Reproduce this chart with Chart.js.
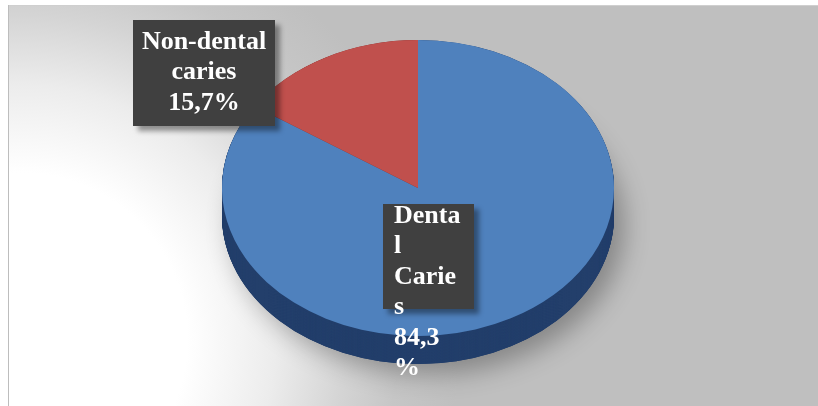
<!DOCTYPE html>
<html>
<head>
<meta charset="utf-8">
<script src="https://cdn.jsdelivr.net/npm/chart.js@4.4.0/dist/chart.umd.min.js"></script>
<style>
  html, body { margin: 0; padding: 0; background: #fff; }
  canvas { display: block; }
</style>
</head>
<body>
<canvas id="myChart" width="818" height="406"></canvas>
<script>
const categories = ['Dental Caries', 'Non-dental caries'];
const values = [84.3, 15.7];
const faceColors = ['#4f81bd', '#c0504d'];
const sideColors = ['#233f6b', '#7a2c2a'];

// tilt of the pie (vertical squash) and thickness of the side wall
const TILT = 0.755;
const DEPTH = 28;
const CENTER_Y = 188;

// label boxes: rectangle, text alignment and wrap width
const labelBoxes = [
  { x: 383, y: 204, w: 91, h: 105, align: 'left', textX: 394, firstLine: 223, wrap: 69 },
  { x: 133, y: 20, w: 142, h: 106, align: 'center', textX: 204, firstLine: 49, wrap: 132 }
];
const LINE_H = 30.4;
const LABEL_FONT = 'bold 26px "Liberation Serif", "Times New Roman", serif';

function fmt(v) {
  return v.toFixed(1).replace('.', ',') + '%';
}

// greedy word wrap, breaking a word by characters when it is too long on its own
function wrapText(ctx, text, maxW) {
  const lines = [];
  let cur = '';
  text.split(' ').forEach(word => {
    const test = cur ? cur + ' ' + word : word;
    if (ctx.measureText(test).width <= maxW) { cur = test; return; }
    if (cur) lines.push(cur);
    cur = '';
    for (const ch of word) {
      if (ctx.measureText(cur + ch).width > maxW && cur) { lines.push(cur); cur = ch; }
      else cur += ch;
    }
  });
  if (cur) lines.push(cur);
  return lines;
}

const pie3d = {
  id: 'pie3d',
  beforeDraw(chart) {
    const ctx = chart.ctx;
    const W = chart.width, H = chart.height;
    ctx.save();
    ctx.fillStyle = '#ffffff';
    ctx.fillRect(0, 0, W, H);
    const g = ctx.createRadialGradient(20, 340, 0, 20, 340, 440);
    g.addColorStop(0, '#ffffff');
    g.addColorStop(0.38, '#ffffff');
    g.addColorStop(0.58, '#ececec');
    g.addColorStop(0.74, '#d4d4d4');
    g.addColorStop(0.86, '#c6c6c6');
    g.addColorStop(1, '#bfbfbf');
    ctx.fillStyle = g;
    ctx.fillRect(8, 5, W - 8, H - 5);
    ctx.strokeStyle = '#cfcfcf';
    ctx.lineWidth = 1;
    ctx.beginPath();
    ctx.moveTo(8, 5.5); ctx.lineTo(W, 5.5);
    ctx.stroke();
    ctx.strokeStyle = '#bdbdbd';
    ctx.beginPath();
    ctx.moveTo(8.5, 5); ctx.lineTo(8.5, H);
    ctx.stroke();
    ctx.restore();
  },
  beforeDatasetsDraw(chart) {
    const ctx = chart.ctx;
    const arcs = chart.getDatasetMeta(0).data;
    const { x, y, outerRadius } = arcs[0];
    const dy = DEPTH / TILT;
    ctx.save();
    ctx.translate(0, CENTER_Y);
    ctx.scale(1, TILT);
    ctx.translate(0, -y);

    // soft shadow under the base
    ctx.save();
    ctx.shadowColor = 'rgba(0,0,0,0.3)';
    ctx.shadowBlur = 26;
    ctx.shadowOffsetX = 10;
    ctx.shadowOffsetY = 10;
    ctx.beginPath();
    ctx.arc(x, y + dy, outerRadius, 0, Math.PI * 2);
    ctx.fillStyle = sideColors[0];
    ctx.fill();
    ctx.restore();

    // side wall: stacked copies of each slice
    for (let k = dy; k > 0; k -= 0.5) {
      arcs.forEach((a, i) => {
        ctx.beginPath();
        ctx.moveTo(a.x, a.y + k);
        ctx.arc(a.x, a.y + k, a.outerRadius, a.startAngle, a.endAngle);
        ctx.closePath();
        ctx.fillStyle = sideColors[i];
        ctx.fill();
      });
    }
  },
  afterDatasetsDraw(chart) {
    chart.ctx.restore();
  },
  afterDraw(chart) {
    const ctx = chart.ctx;
    ctx.save();
    ctx.font = LABEL_FONT;
    categories.forEach((cat, i) => {
      const b = labelBoxes[i];
      ctx.save();
      ctx.shadowColor = 'rgba(0,0,0,0.4)';
      ctx.shadowBlur = 5;
      ctx.shadowOffsetX = 5;
      ctx.shadowOffsetY = 5;
      ctx.fillStyle = '#404040';
      ctx.fillRect(b.x, b.y, b.w, b.h);
      ctx.restore();

      const lines = wrapText(ctx, cat, b.wrap).concat(wrapText(ctx, fmt(values[i]), b.wrap));
      ctx.fillStyle = '#ffffff';
      ctx.textAlign = b.align;
      ctx.textBaseline = 'alphabetic';
      lines.forEach((ln, j) => ctx.fillText(ln, b.textX, b.firstLine + j * LINE_H));
    });
    ctx.restore();
  }
};

new Chart(document.getElementById('myChart'), {
  type: 'pie',
  data: {
    labels: categories,
    datasets: [{
      data: values,
      backgroundColor: faceColors,
      borderWidth: 0,
      clip: false
    }]
  },
  options: {
    responsive: false,
    animation: false,
    devicePixelRatio: 1,
    layout: { padding: { left: 18, right: 0, top: 7, bottom: 7 } },
    plugins: {
      legend: { display: false },
      tooltip: { enabled: false }
    }
  },
  plugins: [pie3d]
});
</script>
</body>
</html>
